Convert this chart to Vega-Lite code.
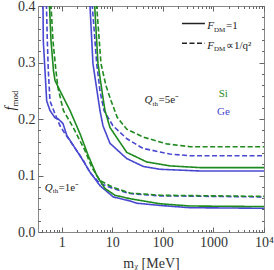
{
  "$schema": "https://vega.github.io/schema/vega-lite/v6.json",
  "width": 226,
  "height": 226,
  "autosize": {"type": "none"},
  "padding": {"left": 38, "top": 6, "right": 10, "bottom": 38},
  "background": "white",
  "config": {"view": {"stroke": "#888", "strokeWidth": 1}, "font": "Liberation Serif"},
  "datasets": {
    "curves": [
      {"mat":"Ge","ff":"1","q":"1","m":0.42,"f":0.43},{"mat":"Ge","ff":"1","q":"1","m":0.427,"f":0.40},{"mat":"Ge","ff":"1","q":"1","m":0.433,"f":0.338},{"mat":"Ge","ff":"1","q":"1","m":0.468,"f":0.285},{"mat":"Ge","ff":"1","q":"1","m":0.505,"f":0.232},{"mat":"Ge","ff":"1","q":"1","m":0.587,"f":0.215},{"mat":"Ge","ff":"1","q":"1","m":0.738,"f":0.202},{"mat":"Ge","ff":"1","q":"1","m":0.857,"f":0.200},{"mat":"Ge","ff":"1","q":"1","m":1.06,"f":0.192},{"mat":"Ge","ff":"1","q":"1","m":1.26,"f":0.171},{"mat":"Ge","ff":"1","q":"1","m":2.3,"f":0.135},{"mat":"Ge","ff":"1","q":"1","m":3.63,"f":0.106},{"mat":"Ge","ff":"1","q":"1","m":5.71,"f":0.082},{"mat":"Ge","ff":"1","q":"1","m":10.5,"f":0.062},{"mat":"Ge","ff":"1","q":"1","m":22.4,"f":0.055},{"mat":"Ge","ff":"1","q":"1","m":30.3,"f":0.051},{"mat":"Ge","ff":"1","q":"1","m":88,"f":0.047},{"mat":"Ge","ff":"1","q":"1","m":344,"f":0.043},{"mat":"Ge","ff":"1","q":"1","m":10000,"f":0.042},
      {"mat":"Ge","ff":"q2","q":"1","m":0.49,"f":0.43},{"mat":"Ge","ff":"q2","q":"1","m":0.50,"f":0.40},{"mat":"Ge","ff":"q2","q":"1","m":0.52,"f":0.338},{"mat":"Ge","ff":"q2","q":"1","m":0.544,"f":0.285},{"mat":"Ge","ff":"q2","q":"1","m":0.587,"f":0.232},{"mat":"Ge","ff":"q2","q":"1","m":0.738,"f":0.209},{"mat":"Ge","ff":"q2","q":"1","m":0.926,"f":0.188},{"mat":"Ge","ff":"q2","q":"1","m":1.16,"f":0.174},{"mat":"Ge","ff":"q2","q":"1","m":1.69,"f":0.153},{"mat":"Ge","ff":"q2","q":"1","m":2.67,"f":0.127},{"mat":"Ge","ff":"q2","q":"1","m":3.63,"f":0.105},{"mat":"Ge","ff":"q2","q":"1","m":5.71,"f":0.086},{"mat":"Ge","ff":"q2","q":"1","m":10.3,"f":0.077},{"mat":"Ge","ff":"q2","q":"1","m":22.4,"f":0.068},{"mat":"Ge","ff":"q2","q":"1","m":88,"f":0.064},{"mat":"Ge","ff":"q2","q":"1","m":10000,"f":0.062},
      {"mat":"Si","ff":"1","q":"1","m":0.56,"f":0.43},{"mat":"Si","ff":"1","q":"1","m":0.574,"f":0.40},{"mat":"Si","ff":"1","q":"1","m":0.615,"f":0.338},{"mat":"Si","ff":"1","q":"1","m":0.689,"f":0.285},{"mat":"Si","ff":"1","q":"1","m":0.738,"f":0.268},{"mat":"Si","ff":"1","q":"1","m":0.926,"f":0.250},{"mat":"Si","ff":"1","q":"1","m":1.46,"f":0.215},{"mat":"Si","ff":"1","q":"1","m":2.3,"f":0.174},{"mat":"Si","ff":"1","q":"1","m":3.36,"f":0.135},{"mat":"Si","ff":"1","q":"1","m":4.92,"f":0.100},{"mat":"Si","ff":"1","q":"1","m":7.17,"f":0.077},{"mat":"Si","ff":"1","q":"1","m":11.3,"f":0.065},{"mat":"Si","ff":"1","q":"1","m":22.4,"f":0.059},{"mat":"Si","ff":"1","q":"1","m":88,"f":0.050},{"mat":"Si","ff":"1","q":"1","m":344,"f":0.046},{"mat":"Si","ff":"1","q":"1","m":10000,"f":0.045},
      {"mat":"Si","ff":"q2","q":"1","m":0.60,"f":0.43},{"mat":"Si","ff":"q2","q":"1","m":0.615,"f":0.40},{"mat":"Si","ff":"q2","q":"1","m":0.673,"f":0.338},{"mat":"Si","ff":"q2","q":"1","m":0.771,"f":0.285},{"mat":"Si","ff":"q2","q":"1","m":0.845,"f":0.255},{"mat":"Si","ff":"q2","q":"1","m":1.08,"f":0.215},{"mat":"Si","ff":"q2","q":"1","m":1.69,"f":0.185},{"mat":"Si","ff":"q2","q":"1","m":2.89,"f":0.144},{"mat":"Si","ff":"q2","q":"1","m":3.92,"f":0.115},{"mat":"Si","ff":"q2","q":"1","m":5.71,"f":0.091},{"mat":"Si","ff":"q2","q":"1","m":10.3,"f":0.079},{"mat":"Si","ff":"q2","q":"1","m":22.4,"f":0.069},{"mat":"Si","ff":"q2","q":"1","m":88,"f":0.065},{"mat":"Si","ff":"q2","q":"1","m":10000,"f":0.063},
      {"mat":"Ge","ff":"1","q":"5","m":3.5,"f":0.43},{"mat":"Ge","ff":"1","q":"5","m":3.63,"f":0.40},{"mat":"Ge","ff":"1","q":"5","m":4.15,"f":0.298},{"mat":"Ge","ff":"1","q":"5","m":4.99,"f":0.250},{"mat":"Ge","ff":"1","q":"5","m":5.71,"f":0.215},{"mat":"Ge","ff":"1","q":"5","m":6.55,"f":0.188},{"mat":"Ge","ff":"1","q":"5","m":9.0,"f":0.157},{"mat":"Ge","ff":"1","q":"5","m":19.3,"f":0.130},{"mat":"Ge","ff":"1","q":"5","m":41,"f":0.116},{"mat":"Ge","ff":"1","q":"5","m":88,"f":0.111},{"mat":"Ge","ff":"1","q":"5","m":541,"f":0.108},{"mat":"Ge","ff":"1","q":"5","m":10000,"f":0.108},
      {"mat":"Ge","ff":"q2","q":"5","m":3.9,"f":0.43},{"mat":"Ge","ff":"q2","q":"5","m":4.03,"f":0.40},{"mat":"Ge","ff":"q2","q":"5","m":4.92,"f":0.298},{"mat":"Ge","ff":"q2","q":"5","m":5.71,"f":0.25},{"mat":"Ge","ff":"q2","q":"5","m":6.85,"f":0.215},{"mat":"Ge","ff":"q2","q":"5","m":10.3,"f":0.188},{"mat":"Ge","ff":"q2","q":"5","m":19.5,"f":0.165},{"mat":"Ge","ff":"q2","q":"5","m":40.4,"f":0.148},{"mat":"Ge","ff":"q2","q":"5","m":138,"f":0.138},{"mat":"Ge","ff":"q2","q":"5","m":344,"f":0.135},{"mat":"Ge","ff":"q2","q":"5","m":10000,"f":0.135},
      {"mat":"Si","ff":"1","q":"5","m":4.35,"f":0.43},{"mat":"Si","ff":"1","q":"5","m":4.49,"f":0.40},{"mat":"Si","ff":"1","q":"5","m":5.22,"f":0.298},{"mat":"Si","ff":"1","q":"5","m":6.25,"f":0.25},{"mat":"Si","ff":"1","q":"5","m":7.17,"f":0.215},{"mat":"Si","ff":"1","q":"5","m":9.0,"f":0.185},{"mat":"Si","ff":"1","q":"5","m":19.3,"f":0.141},{"mat":"Si","ff":"1","q":"5","m":47.9,"f":0.124},{"mat":"Si","ff":"1","q":"5","m":138,"f":0.117},{"mat":"Si","ff":"1","q":"5","m":541,"f":0.114},{"mat":"Si","ff":"1","q":"5","m":10000,"f":0.114},
      {"mat":"Si","ff":"q2","q":"5","m":4.75,"f":0.43},{"mat":"Si","ff":"q2","q":"5","m":4.92,"f":0.40},{"mat":"Si","ff":"q2","q":"5","m":5.98,"f":0.298},{"mat":"Si","ff":"q2","q":"5","m":7.5,"f":0.259},{"mat":"Si","ff":"q2","q":"5","m":9.5,"f":0.232},{"mat":"Si","ff":"q2","q":"5","m":12.5,"f":0.203},{"mat":"Si","ff":"q2","q":"5","m":19.3,"f":0.182},{"mat":"Si","ff":"q2","q":"5","m":41,"f":0.168},{"mat":"Si","ff":"q2","q":"5","m":119,"f":0.156},{"mat":"Si","ff":"q2","q":"5","m":344,"f":0.151},{"mat":"Si","ff":"q2","q":"5","m":10000,"f":0.151}
    ],
    "legendlines": [
      {"ff":"1","m":239,"f":0.369},{"ff":"1","m":679,"f":0.369},
      {"ff":"q2","m":239,"f":0.334},{"ff":"q2","m":679,"f":0.334}
    ],
    "txt": [
      {"s":"F","m":1023,"f":0.359,"role":"it"},
      {"s":"DM","m":1023,"f":0.359,"role":"sub"},
      {"s":"=1","m":1767,"f":0.359,"role":"rm"},
      {"s":"F","m":1023,"f":0.324,"role":"it"},
      {"s":"DM","m":1023,"f":0.324,"role":"sub"},
      {"s":"∝1/q²","m":1767,"f":0.324,"role":"rm"},
      {"s":"Q","m":62.3,"f":0.228,"role":"it"},
      {"s":"th","m":62.3,"f":0.228,"role":"sub"},
      {"s":"=5e⁻","m":81.9,"f":0.228,"role":"rm"},
      {"s":"Q","m":0.665,"f":0.0726,"role":"it"},
      {"s":"th","m":0.665,"f":0.0726,"role":"sub"},
      {"s":"=1e⁻","m":0.869,"f":0.0726,"role":"rm"},
      {"s":"f","m":0.1196,"f":0.222,"role":"yt"},
      {"s":"mod","m":0.1196,"f":0.222,"role":"ytsub"}
    ],
    "mats": [
      {"s":"Si","mat":"Si","m":1268,"f":0.2395},
      {"s":"Ge","mat":"Ge","m":1175,"f":0.207}
    ]
  },
  "layer": [
    {
      "data": {"name": "curves"},
      "mark": {"type": "line", "clip": true, "strokeWidth": 1.6},
      "encoding": {
        "x": {"field": "m", "type": "quantitative",
          "scale": {"type": "log", "domain": [0.34, 10000], "nice": false},
          "axis": {"orient": "bottom",
            "values": [0.4,0.5,0.6,0.7,0.8,0.9,1,2,3,4,5,6,7,8,9,10,20,30,40,50,60,70,80,90,100,200,300,400,500,600,700,800,900,1000,2000,3000,4000,5000,6000,7000,8000,9000,10000],
            "labelExpr": "datum.value == 10000 ? '10⁴' : (indexof([1,10,100,1000], datum.value) >= 0 ? format(datum.value, 'd') : '')",
            "labelFlush": false, "labelOverlap": false,
            "tickSize": {"condition": {"test": "indexof([1,10,100,1000,10000], datum.value) >= 0", "value": -5}, "value": -2.5},
            "tickColor": "#666", "domain": false, "grid": false,
            "labelFont": "Liberation Serif", "labelFontSize": 14, "labelColor": "#333", "labelPadding": 8,
            "title": "mᵪ [MeV]", "titleFont": "Liberation Serif", "titleFontSize": 14, "titleFontWeight": "normal", "titleColor": "#333", "titlePadding": 5}},
        "y": {"field": "f", "type": "quantitative",
          "scale": {"domain": [0, 0.4], "nice": false, "zero": false},
          "axis": {"orient": "left",
            "values": [0,0.02,0.04,0.06,0.08,0.1,0.12,0.14,0.16,0.18,0.2,0.22,0.24,0.26,0.28,0.3,0.32,0.34,0.36,0.38,0.4],
            "labelExpr": "indexof([0,0.1,0.2,0.3,0.4], datum.value) >= 0 ? format(datum.value, '.1f') : ''",
            "labelOverlap": false,
            "tickSize": {"condition": {"test": "indexof([0,0.1,0.2,0.3,0.4], datum.value) >= 0", "value": -5}, "value": -2.5},
            "tickColor": "#666", "domain": false, "grid": false,
            "labelFont": "Liberation Serif", "labelFontSize": 14, "labelColor": "#333", "labelPadding": 8,
            "title": null}},
        "color": {"field": "mat", "type": "nominal", "scale": {"domain": ["Si", "Ge"], "range": ["#1f8a1f", "#4848d0"]}, "legend": null},
        "strokeDash": {"field": "ff", "type": "nominal", "scale": {"domain": ["1", "q2"], "range": [[1, 0], [5, 2.5]]}, "legend": null},
        "detail": {"field": "q"}
      }
    },
    {
      "data": {"name": "legendlines"},
      "mark": {"type": "line", "color": "#222", "strokeWidth": 1.5},
      "encoding": {
        "x": {"field": "m", "type": "quantitative",
          "scale": {"type": "log", "domain": [0.34, 10000], "nice": false},
          "axis": {"orient": "top",
            "values": [0.4,0.5,0.6,0.7,0.8,0.9,1,2,3,4,5,6,7,8,9,10,20,30,40,50,60,70,80,90,100,200,300,400,500,600,700,800,900,1000,2000,3000,4000,5000,6000,7000,8000,9000,10000],
            "labels": false, "domain": false, "grid": false, "title": null, "tickColor": "#666",
            "tickSize": {"condition": {"test": "indexof([1,10,100,1000,10000], datum.value) >= 0", "value": -5}, "value": -2.5}}},
        "y": {"field": "f", "type": "quantitative",
          "scale": {"domain": [0, 0.4], "nice": false, "zero": false},
          "axis": {"orient": "right",
            "values": [0,0.02,0.04,0.06,0.08,0.1,0.12,0.14,0.16,0.18,0.2,0.22,0.24,0.26,0.28,0.3,0.32,0.34,0.36,0.38,0.4],
            "labels": false, "domain": false, "grid": false, "title": null, "tickColor": "#666",
            "tickSize": {"condition": {"test": "indexof([0,0.1,0.2,0.3,0.4], datum.value) >= 0", "value": -5}, "value": -2.5}}},
        "strokeDash": {"field": "ff", "type": "nominal", "scale": {"domain": ["1", "q2"], "range": [[1, 0], [5, 2.5]]}, "legend": null}
      }
    },
    {
      "data": {"name": "txt"},
      "transform": [{"filter": "datum.role == 'it'"}],
      "mark": {"type": "text", "font": "Liberation Serif", "fontStyle": "italic", "fontSize": 11, "align": "right", "baseline": "alphabetic", "color": "#222"},
      "encoding": {
        "x": {"field": "m", "type": "quantitative", "scale": {"type": "log", "domain": [0.34, 10000], "nice": false}, "axis": null},
        "y": {"field": "f", "type": "quantitative", "scale": {"domain": [0, 0.4], "nice": false, "zero": false}, "axis": null},
        "text": {"field": "s"}
      }
    },
    {
      "data": {"name": "txt"},
      "transform": [{"filter": "datum.role == 'sub'"}],
      "mark": {"type": "text", "font": "Liberation Serif", "fontSize": 7, "align": "left", "baseline": "alphabetic", "dy": 2.5, "color": "#222"},
      "encoding": {
        "x": {"field": "m", "type": "quantitative", "scale": {"type": "log", "domain": [0.34, 10000], "nice": false}, "axis": null},
        "y": {"field": "f", "type": "quantitative", "scale": {"domain": [0, 0.4], "nice": false, "zero": false}, "axis": null},
        "text": {"field": "s"}
      }
    },
    {
      "data": {"name": "txt"},
      "transform": [{"filter": "datum.role == 'rm'"}],
      "mark": {"type": "text", "font": "Liberation Serif", "fontSize": 11, "align": "left", "baseline": "alphabetic", "color": "#222"},
      "encoding": {
        "x": {"field": "m", "type": "quantitative", "scale": {"type": "log", "domain": [0.34, 10000], "nice": false}, "axis": null},
        "y": {"field": "f", "type": "quantitative", "scale": {"domain": [0, 0.4], "nice": false, "zero": false}, "axis": null},
        "text": {"field": "s"}
      }
    },
    {
      "data": {"name": "mats"},
      "mark": {"type": "text", "font": "Liberation Serif", "fontSize": 11, "align": "left", "baseline": "alphabetic"},
      "encoding": {
        "x": {"field": "m", "type": "quantitative", "scale": {"type": "log", "domain": [0.34, 10000], "nice": false}, "axis": null},
        "y": {"field": "f", "type": "quantitative", "scale": {"domain": [0, 0.4], "nice": false, "zero": false}, "axis": null},
        "text": {"field": "s"},
        "color": {"field": "mat", "type": "nominal", "scale": {"domain": ["Si", "Ge"], "range": ["#1f8a1f", "#4848d0"]}, "legend": null}
      }
    },
    {
      "data": {"name": "txt"},
      "transform": [{"filter": "datum.role == 'yt'"}],
      "mark": {"type": "text", "font": "Liberation Serif", "fontStyle": "italic", "fontSize": 14, "align": "right", "baseline": "alphabetic", "angle": 270, "color": "#222"},
      "encoding": {
        "x": {"field": "m", "type": "quantitative", "scale": {"type": "log", "domain": [0.34, 10000], "nice": false}, "axis": null},
        "y": {"field": "f", "type": "quantitative", "scale": {"domain": [0, 0.4], "nice": false, "zero": false}, "axis": null},
        "text": {"field": "s"}
      }
    },
    {
      "data": {"name": "txt"},
      "transform": [{"filter": "datum.role == 'ytsub'"}],
      "mark": {"type": "text", "font": "Liberation Serif", "fontSize": 9, "align": "left", "baseline": "alphabetic", "angle": 270, "dy": 3, "color": "#222"},
      "encoding": {
        "x": {"field": "m", "type": "quantitative", "scale": {"type": "log", "domain": [0.34, 10000], "nice": false}, "axis": null},
        "y": {"field": "f", "type": "quantitative", "scale": {"domain": [0, 0.4], "nice": false, "zero": false}, "axis": null},
        "text": {"field": "s"}
      }
    }
  ],
  "resolve": {"axis": {"x": "independent", "y": "independent"}}
}
